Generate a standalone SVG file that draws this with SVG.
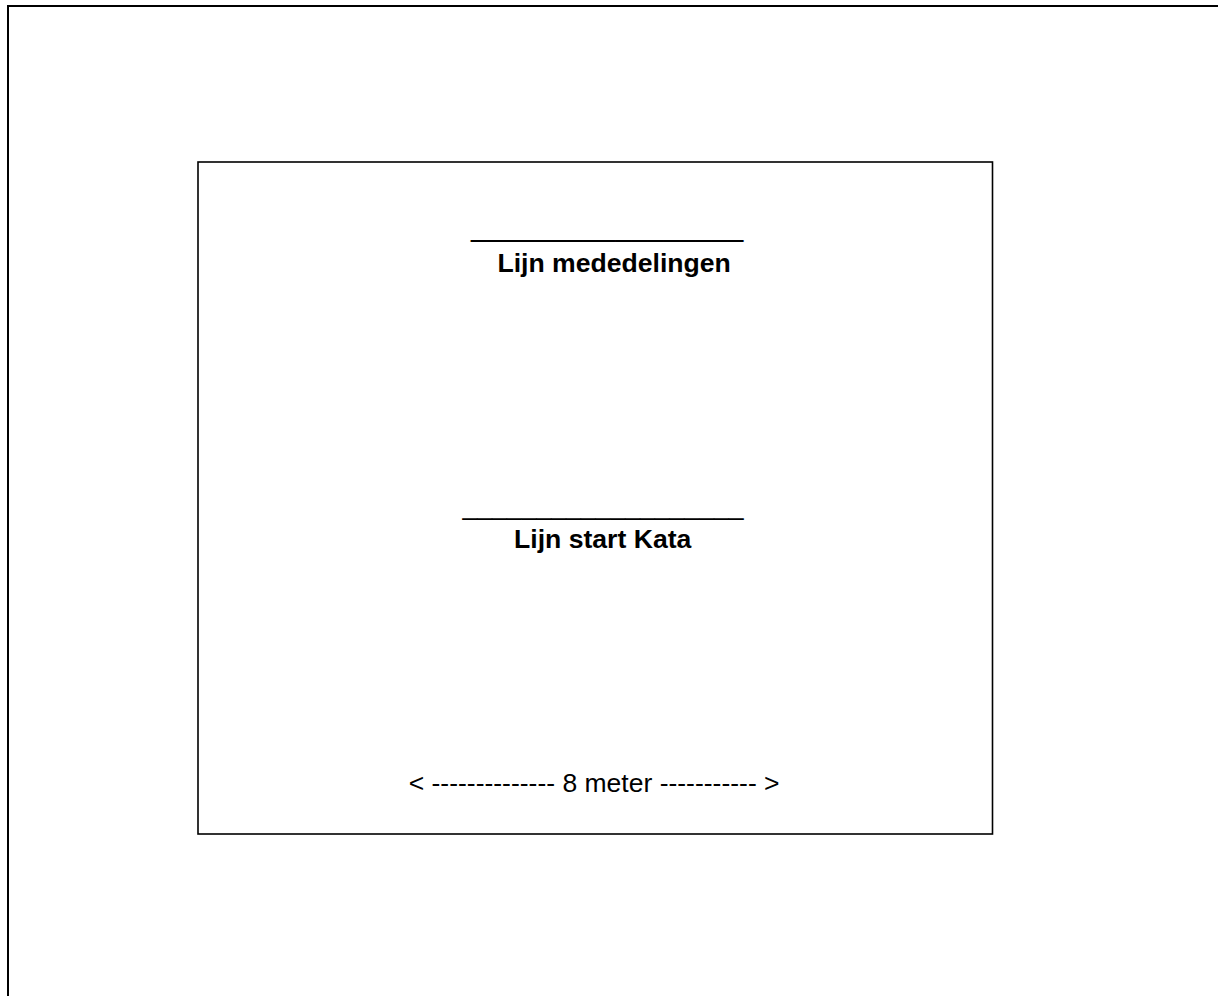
<svg xmlns="http://www.w3.org/2000/svg" width="1218" height="996" viewBox="0 0 1218 996">
<style>
.frame{fill:none;stroke:#000;}
.t{font-family:"Liberation Sans",Arial,sans-serif;fill:#000;}
.b{font-weight:bold;font-size:26.6px;}
.r{font-size:26.5px;}
</style>
<rect width="1218" height="996" fill="#fff"/>
<g id="page-border">
<path class="frame" d="M8 996 V6 H1218" stroke-width="2"/>
</g>
<g id="area">
<rect class="frame" x="198" y="162" width="794.5" height="672" stroke-width="1.6"/>
</g>
<g id="line-mededelingen">
<text class="t" x="471" y="235.8" font-size="28.8">_________________</text>
<text class="t b" x="497.4" y="272">Lijn mededelingen</text>
</g>
<g id="line-start-kata">
<text class="t" x="462.5" y="514.5" font-size="26.6">___________________</text>
<text class="t b" x="514" y="547.5">Lijn start Kata</text>
</g>
<g id="dimension">
<text class="t r" x="408.7" y="792">&lt; -------------- 8 meter ----------- &gt;</text>
</g>
<g id="connectors"/>
</svg>
